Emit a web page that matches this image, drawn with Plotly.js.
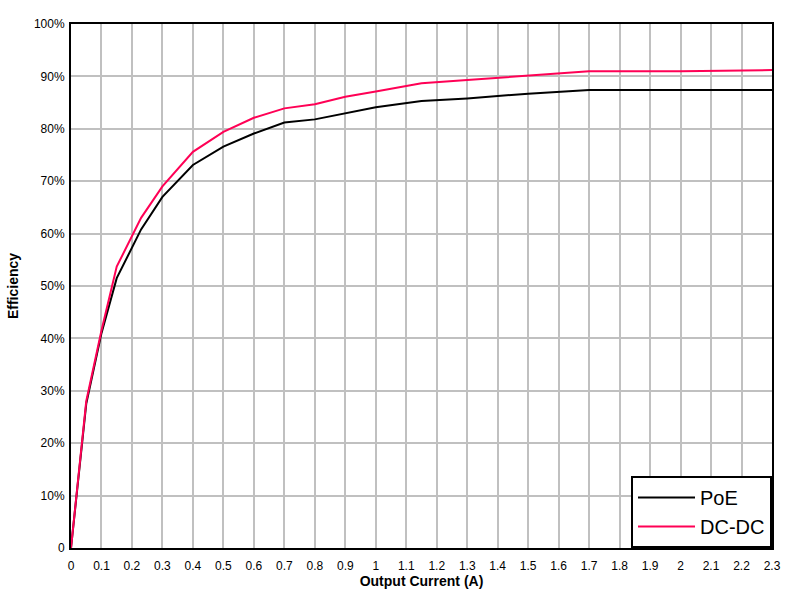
<!DOCTYPE html>
<html><head><meta charset="utf-8">
<script src="https://cdn.plot.ly/plotly-3.0.1.min.js"></script>
<style>body{margin:0;background:#fff}#chart{width:799px;height:600px}</style>
</head><body><div id="chart"></div>
<script>
const current = [0, 0.05, 0.1, 0.15, 0.23, 0.3, 0.4, 0.5, 0.6, 0.7, 0.8, 0.9, 1.0, 1.15, 1.3, 1.5, 1.7, 2.0, 2.3];
const poe     = [0, 27.5, 41.0, 51.5, 60.8, 67.0, 73.1, 76.6, 79.1, 81.2, 81.8, 83.0, 84.1, 85.3, 85.8, 86.7, 87.4, 87.4, 87.4];
const dcdc    = [0, 28.0, 41.5, 53.7, 63.0, 69.0, 75.6, 79.4, 82.1, 83.9, 84.7, 86.1, 87.1, 88.7, 89.3, 90.2, 91.0, 91.0, 91.2];
const xTicks = [0,0.1,0.2,0.3,0.4,0.5,0.6,0.7,0.8,0.9,1,1.1,1.2,1.3,1.4,1.5,1.6,1.7,1.8,1.9,2,2.1,2.2,2.3];
const xTickText = ['0','0.1','0.2','0.3','0.4','0.5','0.6','0.7','0.8','0.9','1','1.1','1.2','1.3','1.4','1.5','1.6','1.7','1.8','1.9','2','2.1','2.2','2.3'];
const yTicks = [0,10,20,30,40,50,60,70,80,90,100];
const yTickText = ['0','10%','20%','30%','40%','50%','60%','70%','80%','90%','100%'];

const traces = [
  {x: current, y: poe, name: 'PoE', mode: 'lines', line: {color: '#000000', width: 2}},
  {x: current, y: dcdc, name: 'DC-DC', mode: 'lines', line: {color: '#ff0055', width: 2}}
];
const layout = {
  width: 799, height: 600,
  margin: {l: 71, r: 27, t: 24, b: 52},
  paper_bgcolor: '#fff', plot_bgcolor: '#fff',
  font: {family: 'Liberation Sans, Arial, sans-serif', size: 12, color: '#000'},
  xaxis: {
    range: [0, 2.3], tickmode: 'array', tickvals: xTicks, ticktext: xTickText,
    showgrid: true, gridcolor: '#c0c0c0', gridwidth: 2,
    showline: true, linecolor: '#000', linewidth: 2, mirror: true,
    ticks: '', ticklen: 0, zeroline: false, ticklabelstandoff: 6,
    title: {text: '<b>Output Current (A)</b>', font: {size: 14}, standoff: 3}
  },
  yaxis: {
    range: [0, 100], tickmode: 'array', tickvals: yTicks, ticktext: yTickText,
    showgrid: true, gridcolor: '#c0c0c0', gridwidth: 2,
    showline: true, linecolor: '#000', linewidth: 2, mirror: true,
    ticks: '', ticklen: 0, zeroline: false, ticklabelstandoff: 2,
    title: {text: '<b>Efficiency</b>', font: {size: 14}, standoff: 12}
  },
  legend: {
    x: 1, y: 0, xanchor: 'right', yanchor: 'bottom',
    bgcolor: '#fff', bordercolor: '#000', borderwidth: 2,
    font: {size: 20}, itemwidth: 57, tracegroupgap: 0
  },
  showlegend: true
};
Plotly.newPlot('chart', traces, layout, {displayModeBar: false, staticPlot: true});
</script></body></html>
